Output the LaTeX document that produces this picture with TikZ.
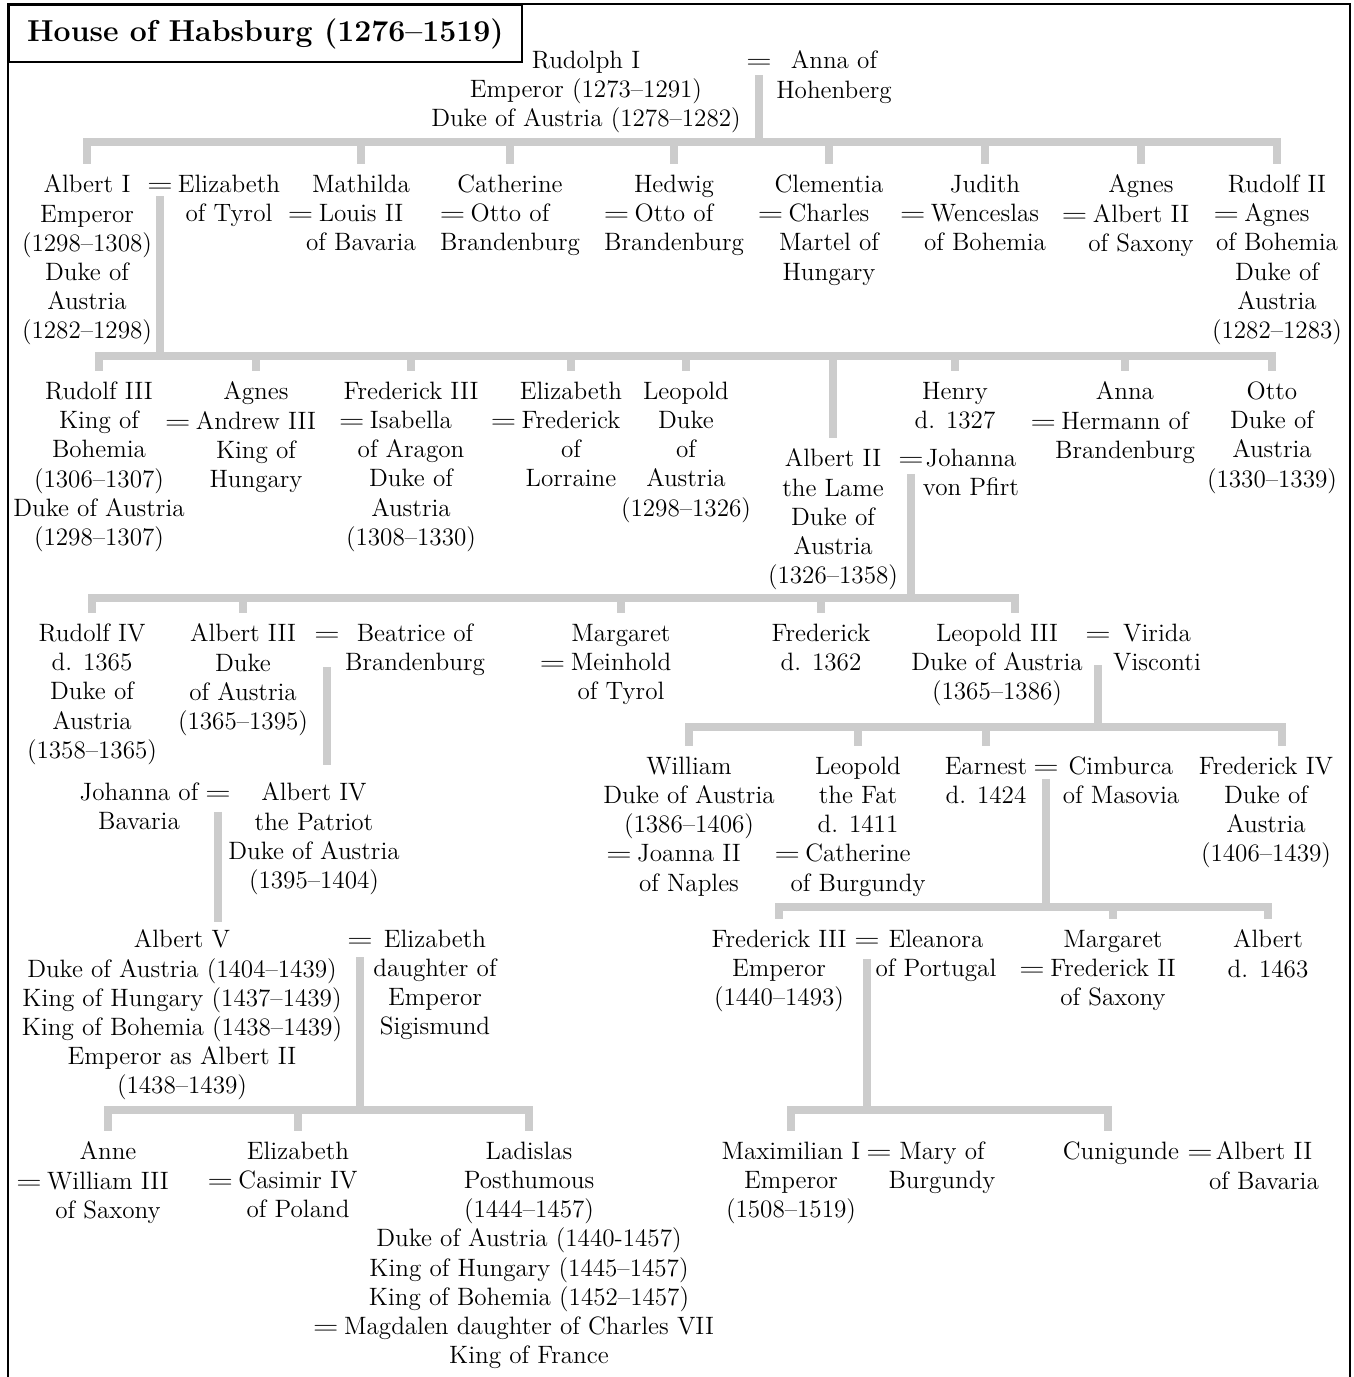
\documentclass[tikz,border=0pt]{standalone}
\newcommand{\eqs}{\scalebox{1.35}[1]{=}}
\newcommand{\wed}{\llap{\eqs\hspace{3pt}}}
\begin{document}
\begin{tikzpicture}[x=0.02cm, y=-0.02cm,
		every node/.style={font=\fontsize{14.3}{16.6}\selectfont},
		person/.style={align=center, anchor=north, inner sep=0pt, yshift=9.9pt},
		wed/.style={anchor=base, inner sep=0pt},
		famline/.style={line width=4.5pt, draw=gray!40},
		bar/.style={famline, line cap=rect},
		drop/.style={famline, shorten >=6pt}
		]
	\useasboundingbox (0,0) rectangle (1354,1377);
	\draw[line width=1.1pt] (8,1377) -- (8,4) -- (1350,4) -- (1350,1377);
	\node[draw, line width=1.1pt, anchor=north west, minimum width=10.26cm, minimum height=1.14cm,
		font=\fontsize{17.2}{20}\selectfont\bfseries] (title) at (8,4) {House of Habsburg (1276–1519)};

	\node[person] (rudolphI) at (586,68) {Rudolph I\\Emperor (1273–1291)\\Duke of Austria (1278–1282)};
	\node[wed] (eq0) at (759,68) {\eqs};
	\node[person] (annaH) at (834,68) {Anna of\\Hohenberg};

	\node[person] (albertI) at (87,192) {Albert I\\Emperor\\(1298–1308)\\Duke of\\Austria\\(1282–1298)};
	\node[wed] (eq1) at (160,192) {\eqs};
	\node[person] (elizabethT) at (229,192) {Elizabeth\\of Tyrol};
	\node[person] (mathilda) at (361,192) {Mathilda\\\wed Louis II\\of Bavaria};
	\node[person] (catherine) at (510,192) {Catherine\\\wed Otto of\\Brandenburg};
	\node[person] (hedwig) at (674,192) {Hedwig\\\wed Otto of\\Brandenburg};
	\node[person] (clementia) at (829,192) {Clementia\\\wed Charles\\Martel of\\Hungary};
	\node[person] (judith) at (985,192) {Judith\\\wed Wenceslas\\of Bohemia};
	\node[person] (agnesS) at (1141,192) {Agnes\\\wed Albert II\\of Saxony};
	\node[person] (rudolfII) at (1277,192) {Rudolf II\\\wed Agnes\\of Bohemia\\Duke of\\Austria\\(1282–1283)};

	\node[person] (rudolfIII) at (99,399) {Rudolf III\\King of\\Bohemia\\(1306–1307)\\Duke of Austria\\(1298–1307)};
	\node[person] (agnesH) at (256,399) {Agnes\\\wed Andrew III\\King of\\Hungary};
	\node[person] (frederickIII) at (411,399) {Frederick III\\\wed Isabella\\of Aragon\\Duke of\\Austria\\(1308–1330)};
	\node[person] (elizabethL) at (571,399) {Elizabeth\\\wed Frederick\\of\\Lorraine};
	\node[person] (leopold) at (686,399) {Leopold\\Duke\\of\\Austria\\(1298–1326)};
	\node[person] (albertII) at (833,466) {Albert II\\the Lame\\Duke of\\Austria\\(1326–1358)};
	\node[wed] (eq2) at (911,466) {\eqs};
	\node[person] (johannaP) at (971,466) {Johanna\\von Pfirt};
	\node[person] (henry) at (955,399) {Henry\\d. 1327};
	\node[person] (annaB) at (1125,399) {Anna\\\wed Hermann of\\Brandenburg};
	\node[person] (otto) at (1272,399) {Otto\\Duke of\\Austria\\(1330–1339)};

	\node[person] (rudolfIV) at (92,641) {Rudolf IV\\d. 1365\\Duke of\\Austria\\(1358–1365)};
	\node[person] (albertIII) at (243,641) {Albert III\\Duke\\of Austria\\(1365–1395)};
	\node[wed] (eq3) at (327,641) {\eqs};
	\node[person] (beatrice) at (415,641) {Beatrice of\\Brandenburg};
	\node[person] (margaret) at (621,641) {Margaret\\\wed Meinhold\\of Tyrol};
	\node[person] (frederick) at (821,641) {Frederick\\d. 1362};
	\node[person] (leopoldIII) at (997,641) {Leopold III\\Duke of Austria\\(1365–1386)};
	\node[wed] (eq4) at (1098,641) {\eqs};
	\node[person] (virida) at (1157,641) {Virida\\Visconti};

	\node[person] (johannaB) at (139,800) {Johanna of\\Bavaria};
	\node[wed] (eq5) at (218,800) {\eqs};
	\node[person] (albertIV) at (314,800) {Albert IV\\the Patriot\\Duke of Austria\\(1395–1404)};

	\node[person] (william) at (689,774) {William\\Duke of Austria\\(1386–1406)\\\wed Joanna II\\of Naples};
	\node[person] (leopoldF) at (858,774) {Leopold\\the Fat\\d. 1411\\\wed Catherine\\of Burgundy};
	\node[person] (earnest) at (986,774) {Earnest\\d. 1424};
	\node[wed] (eq6) at (1046,774) {\eqs};
	\node[person] (cimburca) at (1121,774) {Cimburca\\of Masovia};
	\node[person] (frederickIV) at (1266,774) {Frederick IV\\Duke of\\Austria\\(1406–1439)};

	\node[person] (albertV) at (182,947) {Albert V\\Duke of Austria (1404–1439)\\King of Hungary (1437–1439)\\King of Bohemia (1438–1439)\\Emperor as Albert II\\(1438–1439)};
	\node[wed] (eq7) at (360,947) {\eqs};
	\node[person] (elizabethE) at (435,947) {Elizabeth\\daughter of\\Emperor\\Sigismund};
	\node[person] (frederickE) at (779,947) {Frederick III\\Emperor\\(1440–1493)};
	\node[wed] (eq8) at (867,947) {\eqs};
	\node[person] (eleanora) at (936,947) {Eleanora\\of Portugal};
	\node[person] (margaretS) at (1113,947) {Margaret\\\wed Frederick II\\of Saxony};
	\node[person] (albertD) at (1268,947) {Albert\\d. 1463};

	\node[person] (anne) at (108,1159) {Anne\\\wed William III\\of Saxony};
	\node[person] (elizabethP) at (298,1159) {Elizabeth\\\wed Casimir IV\\of Poland};
	\node[person] (ladislas) at (529,1159) {Ladislas\\Posthumous\\(1444–1457)\\Duke of Austria (1440-1457)\\King of Hungary (1445–1457)\\King of Bohemia (1452–1457)\\\wed Magdalen daughter of Charles VII\\King of France};
	\node[person] (maximilian) at (791,1159) {Maximilian I\\Emperor\\(1508–1519)};
	\node[wed] (eq9) at (879,1159) {\eqs};
	\node[person] (mary) at (942,1159) {Mary of\\Burgundy};
	\node[person] (cunigunde) at (1121,1159) {Cunigunde};
	\node[wed] (eq10) at (1200,1159) {\eqs};
	\node[person] (albertB) at (1264,1159) {Albert II\\of Bavaria};

	\coordinate (bar0) at (0,142);
	\coordinate (bar1) at (0,356);
	\coordinate (bar2) at (0,598);
	\coordinate (bar3) at (0,727);
	\coordinate (bar4) at (0,907);
	\coordinate (bar5) at (0,1110);
	\coordinate (bar6) at (0,1110);
	\coordinate (leoIIItop) at ([xshift=0.36cm]leopoldIII.north);
	\coordinate (fredIVtop) at ([xshift=0.32cm]frederickIV.north);
	\coordinate (cuniTop) at ([xshift=-0.26cm]cunigunde.north);

	% Rudolph I = Anna
	\draw[famline] ([yshift=-4pt]eq0.base) -- (eq0 |- bar0);
	\draw[bar] (albertI |- bar0) -- (rudolfII |- bar0);
	\foreach \c in {albertI,mathilda,catherine,hedwig,clementia,judith,agnesS,rudolfII}
		\draw[drop] (\c |- bar0) -- (\c.north);

	% Albert I = Elizabeth
	\draw[famline] ([yshift=-2.3pt]eq1.base) -- (eq1 |- bar1);
	\draw[bar] (rudolfIII |- bar1) -- (otto |- bar1);
	\foreach \c in {rudolfIII,agnesH,frederickIII,elizabethL,leopold,albertII,henry,annaB,otto}
		\draw[drop] (\c |- bar1) -- (\c.north);

	% Albert II = Johanna
	\draw[famline] ([yshift=-4.5pt]eq2.base) -- (eq2 |- bar2);
	\draw[bar] (rudolfIV |- bar2) -- (leoIIItop |- bar2);
	\foreach \c in {rudolfIV,albertIII,margaret,frederick}
		\draw[drop] (\c |- bar2) -- (\c.north);
	\draw[drop] (leoIIItop |- bar2) -- (leoIIItop);

	\draw[famline, shorten >=10pt] ([yshift=-14.8pt]eq3.base) -- (eq3 |- albertIV.north);
	\draw[famline, shorten >=4.5pt] ([yshift=-6.8pt]eq5.base) -- (eq5 |- albertV.north);

	% Albert V = Elizabeth
	\draw[famline] ([yshift=-5.7pt]eq7.base) -- (eq7 |- bar5);
	\draw[bar] (anne |- bar5) -- (ladislas |- bar5);
	\foreach \c in {anne,elizabethP,ladislas}
		\draw[drop] (\c |- bar5) -- (\c.north);

	% Leopold III = Virida
	\draw[famline] ([yshift=-13.7pt]eq4.base) -- (eq4 |- bar3);
	\draw[bar] (william |- bar3) -- (fredIVtop |- bar3);
	\foreach \c in {william,leopoldF,earnest}
		\draw[drop] (\c |- bar3) -- (\c.north);
	\draw[drop] (fredIVtop |- bar3) -- (fredIVtop);

	% Earnest = Cimburca
	\draw[famline] ([yshift=-2.8pt]eq6.base) -- (eq6 |- bar4);
	\draw[bar] (frederickE |- bar4) -- (albertD |- bar4);
	\foreach \c in {frederickE,margaretS,albertD}
		\draw[drop] (\c |- bar4) -- (\c.north);

	% Frederick III = Eleanora
	\draw[famline] ([yshift=-6.8pt]eq8.base) -- (eq8 |- bar6);
	\draw[bar] (maximilian |- bar6) -- (cuniTop |- bar6);
	\draw[drop] (maximilian |- bar6) -- (maximilian.north);
	\draw[drop] (cuniTop |- bar6) -- (cuniTop);
\end{tikzpicture}
\end{document}
